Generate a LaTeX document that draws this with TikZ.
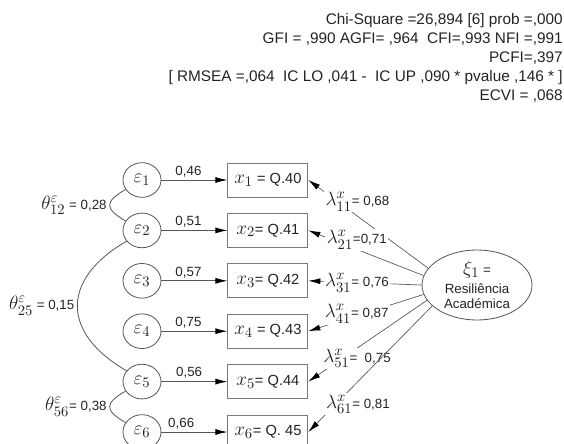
\documentclass[tikz,border=0pt]{standalone}
\usepackage{fontspec}
\setmainfont{Liberation Sans}
\usepackage{amsmath}
\usetikzlibrary{shapes.geometric, arrows.meta, positioning}
\definecolor{sem-line}{RGB}{85,85,85}
\definecolor{sem-box}{RGB}{120,120,120}
\definecolor{sem-text}{RGB}{35,35,35}
% math symbols set a bit larger than the sans text around them
\DeclareMathSizes{13.5}{13.5}{10.5}{8}
\newcommand{\semmath}[1]{{\fontsize{13.5}{15}\selectfont$#1$}}

\begin{document}
\begin{tikzpicture}[
    x=0.75pt, y=0.75pt,
    every node/.style={text=sem-text},
    err/.style={ellipse, draw=sem-line, line width=0.6pt, minimum width=28.5pt, minimum height=26pt, inner sep=0pt, font=\fontsize{11}{13}\selectfont},
    item/.style={rectangle, draw=sem-box, line width=0.7pt, minimum width=60pt, minimum height=25.5pt, inner sep=0pt, font=\fontsize{11}{13}\selectfont},
    factor/.style={ellipse, draw=sem-line, line width=0.6pt, minimum width=82.5pt, minimum height=52.5pt, inner sep=0pt, align=center, font=\fontsize{10}{11}\selectfont},
    errarrow/.style={draw=sem-line, line width=0.6pt, -{Latex[length=9pt, width=4.5pt, color=black]}},
    load/.style={draw=sem-line, line width=0.5pt, -{Latex[length=9pt, width=4.5pt, color=black]}},
    cov/.style={draw=sem-line, line width=0.6pt},
    coef/.style={font=\fontsize{10}{12}\selectfont, inner sep=2pt},
    lam/.style={fill=white, inner sep=1pt, font=\fontsize{10}{12}\selectfont},
]

\clip (0,0) rectangle (564,-443);

% Fit indices
\node[anchor=north east, align=right, inner sep=0pt, font=\fontsize{11.5}{14.25}\selectfont] (fit) at (563,-13.5)
    {Chi-Square =26,894 [6] prob =,000\\
     GFI = ,990 AGFI= ,964~ CFI=,993 NFI =,991\\
     PCFI=,397\\
     {[} RMSEA =,064~ IC LO ,041 -~ IC UP ,090 * pvalue ,146 * ]\\
     ECVI = ,068};

% Measurement errors
\node[err] (e1) at (142,-180) {\semmath{\varepsilon_1}};
\node[err, below=11.2pt of e1] (e2) {\semmath{\varepsilon_2}};
\node[err, below=11.2pt of e2] (e3) {\semmath{\varepsilon_3}};
\node[err, below=11.2pt of e3] (e4) {\semmath{\varepsilon_4}};
\node[err, below=11.2pt of e4] (e5) {\semmath{\varepsilon_5}};
\node[err, below=11.2pt of e5] (e6) {\semmath{\varepsilon_6}};

% Items
\node[item, right=49.5pt of e1] (x1) {\semmath{x_1} = Q.40};
\node[item, right=49.5pt of e2] (x2) {\semmath{x_2}= Q.41};
\node[item, right=49.5pt of e3] (x3) {\semmath{x_3}= Q.42};
\node[item, right=49.5pt of e4] (x4) {\semmath{x_4} = Q.43};
\node[item, right=49.5pt of e5] (x5) {\semmath{x_5}= Q.44};
\node[item, right=49.5pt of e6] (x6) {\semmath{x_6}= Q. 45};

% Latent factor
\node[factor] (xi) at (477,-285) {\semmath{\xi_1} =\\[3pt] Resiliência\\ Académica};

% Error paths
\draw[errarrow] (e1) -- node[coef, above, pos=.41] {0,46} (x1);
\draw[errarrow] (e2) -- node[coef, above, pos=.41] {0,51} (x2);
\draw[errarrow] (e3) -- node[coef, above, pos=.41] {0,57} (x3);
\draw[errarrow] (e4) -- node[coef, above, pos=.41] {0,75} (x4);
\draw[errarrow] (e5) -- node[coef, above, pos=.42] {0,56} (x5);
\draw[errarrow] (e6) -- node[coef, above, pos=.30] {0,66} (x6);

% Error covariances
\draw[cov] (e1.210) to[out=210, in=150, looseness=2] node[coef, left] {\semmath{\theta^{\varepsilon}_{12}} = 0,28} (e2.150);
\draw[cov] (e2.215) to[out=210, in=150, looseness=1.5] node[coef, left] {\semmath{\theta^{\varepsilon}_{25}} = 0,15} (e5.145);
\draw[cov] (e5.210) to[out=210, in=150, looseness=2] node[coef, left] {\semmath{\theta^{\varepsilon}_{56}}= 0,38} (e6.150);

% Factor loadings
\draw[load] (xi.161) -- node[lam, pos=.59, yshift=10.9pt] {\semmath{\lambda^{x}_{11}}= 0,68} (x1.east);
\draw[load] (xi.170) -- node[lam, pos=.58, yshift=7pt] {\semmath{\lambda^{x}_{21}}=0,71} (x2.east);
\draw[load] (xi.180) -- node[lam, pos=.57] {\semmath{\lambda^{x}_{31}}= 0,76} (x3.east);
\draw[load] (xi.190) -- node[lam, pos=.58, yshift=1.5pt] {\semmath{\lambda^{x}_{41}}= 0,87} (x4.east);
\draw[load] (xi.197) -- node[lam, pos=.59, yshift=-7.5pt] {\semmath{\lambda^{x}_{51}}=~ 0,75} (x5.east);
\draw[load] (xi.205) -- node[lam, pos=.60, yshift=-17pt] {\semmath{\lambda^{x}_{61}}= 0,81} (x6.east);

\end{tikzpicture}
\end{document}
